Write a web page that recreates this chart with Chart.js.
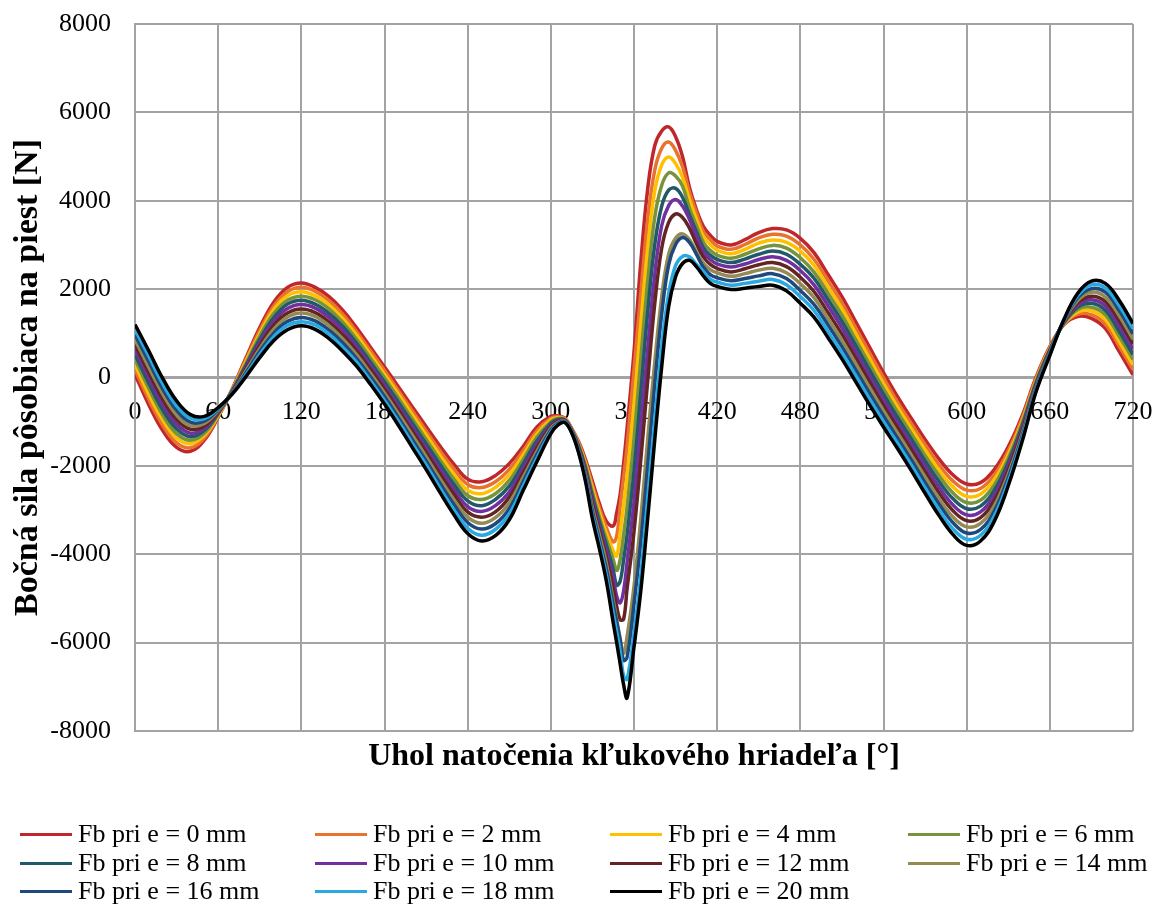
<!DOCTYPE html>
<html><head><meta charset="utf-8">
<script src="https://cdn.jsdelivr.net/npm/chart.js@4.4.1/dist/chart.umd.min.js"></script>
<style>
html,body{margin:0;padding:0;background:#fff;}
#wrap{position:relative;width:1154px;height:904px;overflow:hidden;background:#fff;}
#c{position:absolute;left:0;top:0;}
.lg{position:absolute;display:flex;align-items:center;height:30px;font-family:"Liberation Serif","Times New Roman",serif;font-size:26px;color:#000;white-space:nowrap;}
.lg i{display:inline-block;width:52px;height:3px;margin-right:6px;}
</style></head><body>
<div id="wrap"><canvas id="c" width="1154" height="904"></canvas></div>
<script>
// crank angle [deg]
const angles = [0,10,20,30,40,50,60,70,80,90,100,110,120,130,140,150,160,170,180,190,200,210,220,230,240,250,260,270,280,290,300,305,310,315,320,325,330,335,340,345,347.5,350,352.5,355,360,365,370,375,380,385,390,395,400,405,410,415,420,430,440,450,460,470,480,490,500,510,520,530,540,550,560,570,580,590,600,610,620,630,640,650,660,670,680,690,700,710,720];

// side force Fb [N] for each eccentricity
const fb0 = [70,-620,-1200,-1580,-1670,-1420,-900,-270,440,1130,1700,2040,2140,2040,1830,1520,1120,680,240,-210,-660,-1110,-1550,-1960,-2300,-2360,-2220,-1950,-1560,-1120,-880,-870,-920,-1150,-1450,-1850,-2350,-2850,-3250,-3360,-3060,-2650,-1950,-1150,580,2650,4300,5250,5580,5670,5450,5000,4300,3800,3420,3220,3080,3000,3120,3280,3370,3340,3150,2820,2330,1830,1260,680,110,-430,-920,-1400,-1840,-2200,-2410,-2380,-2080,-1570,-870,0,700,1190,1380,1340,1110,590,60];
const fb2 = [180,-500,-1080,-1480,-1590,-1370,-880,-280,400,1060,1610,1940,2040,1950,1740,1430,1030,600,160,-300,-750,-1210,-1660,-2070,-2420,-2490,-2360,-2080,-1660,-1200,-920,-890,-930,-1160,-1480,-1900,-2440,-2950,-3390,-3720,-3590,-2920,-2260,-1560,170,1930,3610,4700,5190,5330,5140,4770,4200,3730,3310,3120,2980,2900,3010,3160,3240,3200,3000,2670,2190,1690,1120,550,-10,-550,-1040,-1520,-1970,-2340,-2550,-2510,-2200,-1660,-930,-30,680,1200,1430,1420,1210,710,180];
const fb4 = [300,-380,-960,-1370,-1500,-1310,-860,-290,360,990,1530,1850,1940,1850,1640,1330,950,510,70,-380,-840,-1300,-1760,-2190,-2550,-2630,-2490,-2200,-1760,-1280,-960,-910,-940,-1170,-1500,-1950,-2520,-3050,-3520,-3920,-4040,-3510,-2900,-2240,-620,1240,2960,4220,4810,4990,4840,4530,4020,3580,3190,3010,2880,2800,2900,3040,3110,3060,2860,2530,2040,1550,990,420,-140,-660,-1160,-1640,-2100,-2470,-2690,-2640,-2310,-1750,-990,-70,660,1210,1480,1510,1310,820,290];
const fb6 = [410,-250,-850,-1270,-1420,-1260,-830,-300,310,930,1440,1750,1840,1760,1550,1240,860,430,-10,-470,-940,-1400,-1870,-2300,-2670,-2760,-2630,-2330,-1860,-1350,-1000,-930,-950,-1180,-1530,-2000,-2610,-3160,-3660,-4120,-4370,-4120,-3560,-2940,-1400,460,2220,3630,4350,4630,4560,4330,3830,3440,3060,2880,2770,2700,2790,2910,2990,2930,2710,2380,1900,1410,850,290,-260,-780,-1270,-1770,-2220,-2610,-2830,-2780,-2430,-1830,-1040,-100,640,1220,1540,1590,1420,940,410];
const fb8 = [520,-130,-730,-1160,-1340,-1200,-810,-310,270,860,1350,1660,1750,1660,1450,1150,770,340,-100,-560,-1030,-1500,-1970,-2420,-2790,-2900,-2760,-2460,-1960,-1430,-1040,-950,-960,-1190,-1550,-2050,-2690,-3260,-3790,-4350,-4700,-4610,-4130,-3570,-2120,-300,1520,3010,3880,4240,4280,4080,3680,3300,2940,2770,2670,2600,2680,2790,2860,2790,2560,2240,1760,1270,720,160,-380,-900,-1390,-1890,-2350,-2740,-2970,-2910,-2550,-1920,-1100,-130,620,1230,1590,1680,1520,1050,520];
const fb10 = [640,-10,-610,-1060,-1260,-1150,-790,-330,230,790,1270,1560,1650,1570,1360,1060,690,260,-180,-650,-1120,-1600,-2080,-2530,-2920,-3030,-2900,-2590,-2060,-1510,-1080,-980,-970,-1200,-1580,-2100,-2780,-3360,-3930,-4540,-4950,-5100,-4830,-4190,-2820,-1080,700,2340,3440,3890,4030,3880,3580,3200,2850,2670,2570,2500,2570,2670,2730,2650,2420,2090,1620,1130,580,30,-510,-1020,-1510,-2010,-2480,-2880,-3110,-3040,-2670,-2010,-1160,-170,600,1250,1640,1760,1620,1170,640];
const fb12 = [750,110,-490,-950,-1170,-1100,-770,-340,190,720,1180,1460,1550,1470,1260,960,600,180,-260,-730,-1210,-1690,-2180,-2640,-3040,-3160,-3040,-2710,-2160,-1590,-1110,-1000,-980,-1210,-1600,-2150,-2860,-3460,-4060,-4760,-5180,-5480,-5470,-4780,-3490,-1830,-30,1680,2930,3510,3700,3620,3380,3030,2730,2560,2470,2390,2460,2550,2600,2510,2270,1940,1470,980,440,-100,-630,-1130,-1630,-2130,-2610,-3010,-3240,-3170,-2780,-2100,-1220,-200,580,1260,1690,1840,1720,1290,760];
const fb14 = [860,230,-370,-850,-1090,-1040,-750,-350,150,650,1090,1370,1460,1380,1170,870,510,90,-350,-820,-1300,-1790,-2290,-2760,-3160,-3300,-3170,-2840,-2260,-1670,-1150,-1020,-990,-1220,-1630,-2200,-2950,-3560,-4200,-5050,-5480,-5900,-6250,-5870,-4730,-3160,-1350,360,1830,2790,3150,3250,3120,2840,2590,2440,2370,2290,2350,2430,2470,2370,2120,1800,1330,840,310,-230,-750,-1250,-1750,-2250,-2740,-3150,-3380,-3300,-2900,-2190,-1280,-230,560,1270,1740,1930,1820,1400,870];
const fb16 = [970,360,-260,-740,-1010,-990,-720,-360,100,590,1000,1270,1360,1280,1070,780,420,10,-430,-910,-1400,-1890,-2390,-2870,-3280,-3430,-3310,-2970,-2360,-1740,-1190,-1040,-1000,-1230,-1650,-2250,-3030,-3670,-4330,-5140,-5530,-5950,-6400,-6330,-5130,-3690,-1960,-140,1440,2550,3010,3170,3060,2790,2500,2330,2260,2190,2240,2300,2350,2240,1970,1650,1190,700,170,-360,-870,-1370,-1860,-2380,-2860,-3280,-3520,-3440,-3020,-2270,-1330,-260,540,1280,1800,2010,1930,1520,990];
const fb18 = [1090,480,-140,-640,-920,-930,-700,-370,60,520,920,1180,1260,1190,980,680,340,-80,-520,-990,-1490,-1980,-2500,-2990,-3410,-3570,-3440,-3090,-2460,-1820,-1230,-1060,-1010,-1240,-1680,-2300,-3120,-3770,-4470,-5340,-5760,-6200,-6750,-6830,-5790,-4450,-2710,-980,700,1900,2530,2740,2730,2560,2400,2220,2160,2090,2130,2180,2220,2100,1830,1510,1040,560,40,-490,-1000,-1480,-1980,-2500,-2990,-3420,-3660,-3570,-3130,-2360,-1390,-300,520,1290,1850,2100,2030,1630,1110];
const fb20 = [1200,600,-20,-530,-840,-880,-680,-380,20,450,830,1080,1170,1090,880,590,250,-160,-600,-1080,-1580,-2080,-2600,-3100,-3530,-3700,-3580,-3220,-2560,-1900,-1270,-1080,-1020,-1250,-1700,-2350,-3200,-3870,-4600,-5550,-6000,-6480,-6950,-7250,-6100,-4800,-3150,-1400,250,1600,2280,2580,2650,2510,2300,2130,2060,1990,2020,2060,2090,1960,1680,1360,900,420,-100,-620,-1120,-1600,-2100,-2620,-3120,-3550,-3800,-3700,-3250,-2450,-1450,-330,500,1300,1900,2180,2130,1750,1220];

const seriesLabels = ['Fb pri e = 0 mm','Fb pri e = 2 mm','Fb pri e = 4 mm','Fb pri e = 6 mm','Fb pri e = 8 mm','Fb pri e = 10 mm','Fb pri e = 12 mm','Fb pri e = 14 mm','Fb pri e = 16 mm','Fb pri e = 18 mm','Fb pri e = 20 mm'];
const seriesValues = [fb0, fb2, fb4, fb6, fb8, fb10, fb12, fb14, fb16, fb18, fb20];
const seriesColors = ['#C0272D','#E8732E','#FFC000','#77933C','#215968','#7030A0','#632523','#948A54','#1F497D','#29A9E1','#000000'];

const xTickValues = [0,60,120,180,240,300,360,420,480,540,600,660,720];
const yTickValues = [-8000,-6000,-4000,-2000,0,2000,4000,6000,8000];

const xTitle = 'Uhol natočenia kľukového hriadeľa [°]';
const yTitle = 'Bočná sila pôsobiaca na piest [N]';

const FONT = '"Liberation Serif", "Times New Roman", serif';
const GRID = '#a3a3a3';
const NONE = 'rgba(0,0,0,0)';

const datasets = seriesValues.map((vals, k) => ({
  label: seriesLabels[k],
  data: angles.map((a, i) => ({x: a, y: vals[i]})),
  borderColor: seriesColors[k],
  backgroundColor: seriesColors[k],
  borderWidth: 3.5,
  pointRadius: 0,
  tension: 0.4,
  fill: false,
  order: seriesValues.length - 1 - k
}));

new Chart(document.getElementById('c'), {
  type: 'line',
  data: { datasets },
  options: {
    responsive: false,
    animation: false,
    devicePixelRatio: 1,
    layout: { padding: { left: 0, right: 21, top: 24, bottom: 128 } },
    plugins: { legend: { display: false }, tooltip: { enabled: false } },
    scales: {
      x: {
        type: 'linear',
        position: { y: 0 },
        min: 0, max: 720,
        afterBuildTicks: s => { s.ticks = xTickValues.map(v => ({ value: v })); },
        ticks: { font: { family: FONT, size: 26 }, color: '#000', padding: 0, maxRotation: 0, autoSkip: false, callback: v => String(v) },
        grid: { color: GRID, lineWidth: 2, drawTicks: true, tickLength: 19, tickColor: NONE },
        border: { display: true, color: GRID, width: 3 }
      },
      xTitle: {
        type: 'linear',
        position: 'bottom',
        axis: 'x',
        min: 0, max: 720,
        grid: { display: false, drawTicks: false },
        border: { display: false },
        ticks: { display: false },
        title: { display: true, text: xTitle, color: '#000', font: { family: FONT, size: 32, weight: 'bold' }, padding: { top: 0, bottom: 0 } },
        afterFit: s => { s.height = 45; }
      },
      y: {
        type: 'linear',
        position: 'left',
        min: -8000, max: 8000,
        afterBuildTicks: s => { s.ticks = yTickValues.map(v => ({ value: v })); },
        ticks: { font: { family: FONT, size: 26 }, color: '#000', padding: 0, callback: v => String(v) },
        grid: { color: GRID, lineWidth: 2, drawTicks: true, tickLength: 24, tickColor: NONE },
        border: { display: true, color: GRID, width: 2 },
        title: { display: true, text: yTitle, color: '#000', font: { family: FONT, size: 34, weight: 'bold' }, padding: { top: 8, bottom: 0 } },
        afterFit: s => { s.width = 135; }
      }
    }
  }
});

// legend (HTML, 4 columns)
const legendCols = [20, 315, 610, 908];
const legendRows = [834, 863, 891];
const wrap = document.getElementById('wrap');
seriesLabels.forEach((lab, k) => {
  const d = document.createElement('div');
  d.className = 'lg';
  d.style.left = legendCols[k % 4] + 'px';
  d.style.top = (legendRows[Math.floor(k / 4)] - 15) + 'px';
  const sw = document.createElement('i');
  sw.style.background = seriesColors[k];
  d.appendChild(sw);
  d.appendChild(document.createTextNode(lab));
  wrap.appendChild(d);
});
</script>
</body></html>
